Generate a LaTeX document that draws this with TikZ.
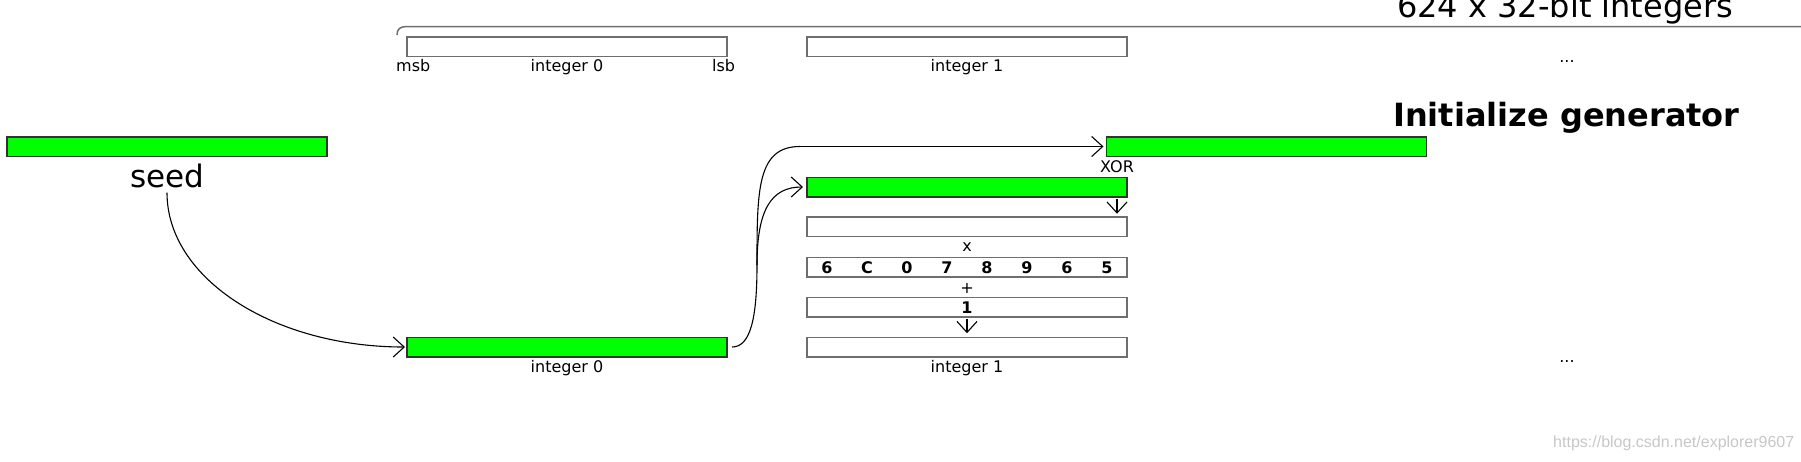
\documentclass[tikz,border=0pt]{standalone}
\usepackage{fontspec}
\setmainfont{DejaVu Sans}
\newfontfamily\wmfont{Liberation Sans}
\usetikzlibrary{arrows.meta}
\definecolor{barg}{HTML}{00FF00}
\definecolor{boxline}{HTML}{6E6E6E}
\definecolor{barline}{HTML}{333333}
\tikzset{
 wbox/.style={draw=boxline, line width=1.5pt, minimum width=320pt, minimum height=19.5pt, inner sep=0pt, outer sep=0pt},
 gbar/.style={draw=barline, fill=barg, line width=1.5pt, minimum width=320pt, minimum height=19.5pt, inner sep=0pt, outer sep=0pt},
 lbl/.style={font=\fontsize{16}{19}\selectfont, inner sep=0pt},
 big/.style={font=\fontsize{32}{38}\selectfont, inner sep=0pt},
 hexd/.style={font=\fontsize{16}{19}\selectfont\bfseries, inner sep=0pt, anchor=base},
 conn/.style={draw=black, line width=1.1pt},
 tipv/.style={-{Straight Barb[length=11pt,width=20pt]}},
}
\begin{document}
\begin{tikzpicture}[x=1pt,y=-1pt]
\useasboundingbox (0,0) rectangle (1801,461);
% brace
\draw[boxline, line width=1.5pt] (397,35) .. controls (397,29) and (400,26.5) .. (407,26.5) -- (1801,26.5);
\node[big,anchor=base west] (title) at (1397,17) {624 x 32-bit integers};
% top row
\node[wbox] (top0) at (567,46.5) {};
\node[wbox] (top1) at (967,46.5) {};
\node[lbl,anchor=base west] (msb) at (396,71) {msb};
\node[lbl,anchor=base] (t0lbl) at (567,71) {integer 0};
\node[lbl,anchor=base west] (lsb) at (712,71) {lsb};
\node[lbl,anchor=base] (t1lbl) at (967,71) {integer 1};
\node[lbl,anchor=base] (dots1) at (1567,62) {...};
\node[big,anchor=base west,font=\fontsize{32}{38}\selectfont\bfseries] (init) at (1393,126) {Initialize generator};
% seed
\node[gbar] (seedbar) at (167,146.5) {};
\node[big,anchor=base,font=\fontsize{31}{36}\selectfont] (seedtxt) at (167,187) {seed};
% middle column
\node[gbar] (xorbar) at (1266.5,146.5) {};
\node[lbl,anchor=base west] (xor) at (1100,172) {XOR};
\node[gbar] (bar2) at (967,187) {};
\node[wbox] (box3) at (967,226.5) {};
\node[lbl] (times) at (967,247) {x};
\node[wbox] (box4) at (967,267) {};
\foreach \d [count=\i] in {6,C,0,7,8,9,6,5}
  \node[hexd] (h\i) at (787+40*\i,273) {\d};
\node[lbl] (plus) at (967,288) {+};
\node[wbox] (box5) at (967,307) {};
\node[hexd] (one) at (967,313) {1};
\node[wbox] (box6) at (967,347) {};
\node[lbl,anchor=base] (b1lbl) at (967,372) {integer 1};
% bottom integer 0
\node[gbar] (int0b) at (567,347) {};
\node[lbl,anchor=base] (b0lbl) at (567,372) {integer 0};
\node[lbl,anchor=base] (dots2) at (1567,362) {...};
% watermark
\node[anchor=base west, inner sep=0pt, text=black!22, font=\wmfont\fontsize{16}{19}\selectfont] (wm) at (1553,447) {https://blog.csdn.net/explorer9607};
% connectors
\coordinate (split) at (757,265);
\coordinate (bend) at (800,146.5);
\draw[conn,tipv] ([yshift=-5pt]seedtxt.south) .. controls +(0,86) and +(-131,0) .. ([xshift=-2pt]int0b.west);
\draw[conn] ([xshift=5pt]int0b.east) .. controls +(18,0) and +(0,55) .. (split);
\draw[conn] (split) .. controls +(0,-75) and +(-43,0) .. (bend);
\draw[conn,tipv] (bend) -- ([xshift=-3pt]xorbar.west);
\draw[conn,tipv] (split) .. controls +(0,-55) and +(-32,0) .. ([xshift=-4pt]bar2.west);
\draw[conn,tipv] ([xshift=-10pt,yshift=-2pt]bar2.south east) -- ([xshift=-10pt,yshift=3pt]box3.north east);
\draw[conn,tipv] ([yshift=-2pt]box5.south) -- ([yshift=4pt]box6.north);
\end{tikzpicture}
\end{document}
